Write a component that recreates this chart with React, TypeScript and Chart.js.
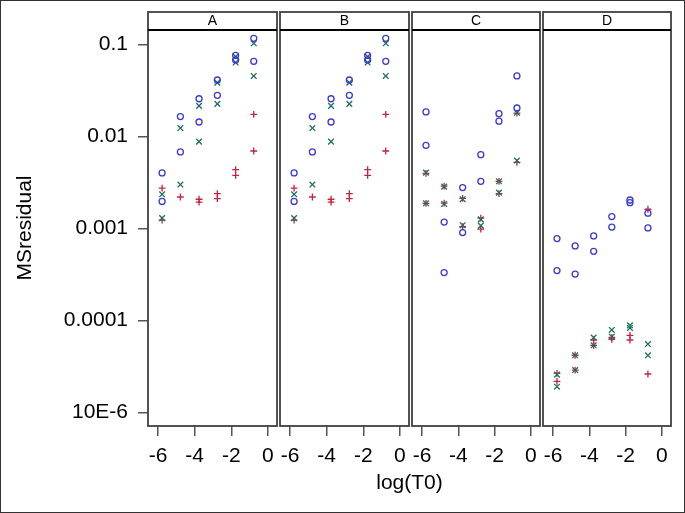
import React, { useEffect, useRef } from 'react';
import { Chart, registerables } from 'chart.js';

Chart.register(...registerables);

// ---------- data ----------
const panelNames = ['A', 'B', 'C', 'D'];
const logT0 = [-5.78, -4.78, -3.76, -2.76, -1.76, -0.77];
const xTickValues = [-6, -4, -2, 0];
const xTickLabels = ['-6', '-4', '-2', '0'];
const yTickValues = [0.1, 0.01, 0.001, 0.0001, 0.00001];
const yTickLabels = ['0.1', '0.01', '0.001', '0.0001', '10E-6'];

// one inner list per logT0 column
const A_circle = [[0.0040, 0.00196], [0.0164, 0.00676], [0.0256, 0.0143], [0.0409, 0.0279], [0.0759, 0.0676], [0.116, 0.0653]];
const A_cross = [[0.00234, 0.00129], [0.0123, 0.00299], [0.0214, 0.00875], [0.0383, 0.0225], [0.0734, 0.0633], [0.1026, 0.0453]];
const A_plus = [[0.00274, 0.00123], [0.00219], [0.00207, 0.00193], [0.00238, 0.0021], [0.00435, 0.00377], [0.0173, 0.00692]];

const B_circle = [[0.0040, 0.00196], [0.0164, 0.00676], [0.0256, 0.0143], [0.0409, 0.0279], [0.0759, 0.0676], [0.116, 0.0653]];
const B_cross = [[0.00234, 0.00129], [0.0123, 0.00299], [0.0214, 0.00875], [0.0383, 0.0225], [0.0734, 0.0633], [0.1026, 0.0453]];
const B_plus = [[0.00274, 0.00123], [0.00219], [0.00207, 0.00193], [0.00238, 0.0021], [0.00435, 0.00377], [0.0173, 0.00692]];

const C_circle = [[0.0184, 0.00798], [0.00117, 0.00033], [0.00277, 0.000898], [0.00632, 0.00324], [0.0176, 0.0146], [0.0453, 0.0203]];
const C_cross = [[0.00403, 0.00187], [0.00284, 0.00184], [0.00207, 0.00108], [0.00125, 0.00107], [0.00324, 0.00244], [0.0181, 0.00545]];
const C_plus = [[0.00395, 0.00187], [0.00288, 0.00188], [0.00212, 0.00104], [0.00129, 0.00098], [0.00324, 0.00238], [0.0179, 0.0052]];

const D_circle = [[0.000773, 0.000347], [0.000643, 0.000318], [0.000826, 0.000562], [0.00134, 0.00103], [0.00203, 0.0019], [0.00146, 0.00101]];
const D_cross = [[2.57e-5, 1.9e-5], [4.17e-5, 2.88e-5], [6.49e-5, 5.35e-5], [7.85e-5, 6.64e-5], [8.83e-5, 8.26e-5], [5.52e-5, 4.17e-5]];
const D_plus = [[2.65e-5, 2.17e-5], [4.17e-5, 2.88e-5], [6.11e-5, 5.35e-5], [6.5e-5, 6.2e-5], [6.87e-5, 6.11e-5], [0.00161, 2.61e-5]];

const circleSeries = [A_circle, B_circle, C_circle, D_circle];
const crossSeries = [A_cross, B_cross, C_cross, D_cross];
const plusSeries = [A_plus, B_plus, C_plus, D_plus];

// ---------- layout ----------
const W = 685;
const H = 513;
const panelLeft = [148, 280, 412, 543];
const panelRight = [277, 409, 540, 671];
const plotTop = 30;
const plotBottom = 426;
const stripH = 18;
const FONT = '"Liberation Sans", Arial, Helvetica, sans-serif';

const toPoints = (cols: number[][]) =>
  cols.flatMap((vals, i) => vals.map((v) => ({ x: logT0[i], y: v })));

const panelPlugin = {
  id: 'panelFrame',
  afterDraw(chart: any, _args: any, opts: any) {
    const { ctx, chartArea } = chart;
    const { left, right, top, bottom } = chartArea;
    ctx.save();
    ctx.strokeStyle = '#404040';
    ctx.lineWidth = 1.8;
    ctx.strokeRect(left, top - stripH, right - left, bottom - top + stripH);
    ctx.beginPath();
    ctx.lineWidth = 2;
    ctx.strokeStyle = '#000';
    ctx.moveTo(left, top);
    ctx.lineTo(right, top);
    ctx.stroke();
    ctx.fillStyle = '#000';
    ctx.font = `14px ${FONT}`;
    ctx.textAlign = 'center';
    ctx.textBaseline = 'middle';
    ctx.fillText(opts.label, (left + right) / 2, top - stripH / 2 + 0.5);
    ctx.restore();
  },
};

function makeConfig(p: number): any {
  const first = p === 0;
  return {
    type: 'scatter',
    data: {
      datasets: [
        {
          label: 'circle',
          data: toPoints(circleSeries[p]),
          pointStyle: 'circle',
          pointRadius: 3,
          borderWidth: 1.3,
          borderColor: '#3a3ad4',
          backgroundColor: 'rgba(0,0,0,0)',
        },
        {
          label: 'cross',
          data: toPoints(crossSeries[p]),
          pointStyle: 'crossRot',
          pointRadius: 4,
          borderWidth: 1.3,
          borderColor: '#1d6f5c',
          backgroundColor: '#1d6f5c',
        },
        {
          label: 'plus',
          data: toPoints(plusSeries[p]),
          pointStyle: 'cross',
          pointRadius: 3.4,
          borderWidth: 1.3,
          borderColor: '#c8203f',
          backgroundColor: '#c8203f',
        },
      ],
    },
    options: {
      animation: false,
      responsive: false,
      events: [],
      layout: {
        padding: {
          left: first ? 0 : panelLeft[p],
          right: W - panelRight[p],
          top: plotTop,
          bottom: 0,
        },
      },
      plugins: {
        legend: { display: false },
        tooltip: { enabled: false },
        panelFrame: { label: panelNames[p] },
      },
      scales: {
        x: {
          type: 'linear',
          position: 'bottom',
          min: -6.55,
          max: 0.5,
          afterBuildTicks: (scale: any) => {
            scale.ticks = xTickValues.map((v) => ({ value: v }));
          },
          afterFit: (scale: any) => {
            scale.height = H - plotBottom;
          },
          border: { display: false },
          grid: {
            drawOnChartArea: false,
            drawTicks: true,
            tickLength: 10,
            color: '#555',
            lineWidth: 1.5,
          },
          ticks: {
            autoSkip: false,
            maxRotation: 0,
            padding: 8,
            color: '#000',
            font: { family: FONT, size: 21 },
            callback: (_v: any, i: number) => xTickLabels[i],
          },
        },
        y: {
          type: 'logarithmic',
          display: first,
          min: 7.1e-6,
          max: 0.143,
          afterBuildTicks: (scale: any) => {
            scale.ticks = yTickValues.map((v) => ({ value: v }));
          },
          afterFit: (scale: any) => {
            if (first) scale.width = panelLeft[0];
          },
          border: { display: false },
          grid: {
            drawOnChartArea: false,
            drawTicks: true,
            tickLength: 10,
            color: '#555',
            lineWidth: 1.5,
          },
          ticks: {
            autoSkip: false,
            padding: 10,
            color: '#000',
            font: { family: FONT, size: 21 },
            callback: (_v: any, i: number) => yTickLabels[i],
          },
          title: {
            display: first,
            text: 'MSresidual',
            color: '#000',
            font: { family: FONT, size: 21 },
            padding: { top: 13, bottom: 0 },
          },
        },
      },
    },
    plugins: [panelPlugin],
  };
}

export default function App() {
  const r0 = useRef<HTMLCanvasElement>(null);
  const r1 = useRef<HTMLCanvasElement>(null);
  const r2 = useRef<HTMLCanvasElement>(null);
  const r3 = useRef<HTMLCanvasElement>(null);

  useEffect(() => {
    const refs = [r0, r1, r2, r3];
    const charts = refs.map((r, p) => new Chart(r.current as HTMLCanvasElement, makeConfig(p)));
    return () => charts.forEach((c) => c.destroy());
  }, []);

  const canvasStyle: React.CSSProperties = { position: 'absolute', left: 0, top: 0 };

  return (
    <div style={{ position: 'absolute', left: 0, top: 0, width: W, height: H, background: '#fff', overflow: 'hidden' }}>
      <canvas ref={r0} width={W} height={H} style={canvasStyle} />
      <canvas ref={r1} width={W} height={H} style={canvasStyle} />
      <canvas ref={r2} width={W} height={H} style={canvasStyle} />
      <canvas ref={r3} width={W} height={H} style={canvasStyle} />
      <div
        style={{
          position: 'absolute',
          left: panelLeft[0],
          width: panelRight[3] - panelLeft[0],
          top: 470,
          lineHeight: '24px',
          fontSize: 21,
          fontFamily: FONT,
          textAlign: 'center',
          color: '#000',
        }}
      >
        log(T0)
      </div>
      <div
        style={{
          position: 'absolute',
          left: 0,
          top: 0,
          width: W,
          height: H,
          boxSizing: 'border-box',
          border: '1px solid #333',
          pointerEvents: 'none',
        }}
      />
    </div>
  );
}
